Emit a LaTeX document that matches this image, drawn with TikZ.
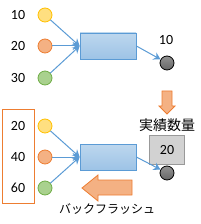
\documentclass[tikz,border=0pt]{standalone}
\usepackage{fontspec}
\setmainfont{Carlito}
\newfontfamily\jpfont{Noto Sans CJK JP}
\usetikzlibrary{arrows.meta}

\definecolor{ylwfill}{HTML}{FFDF80}
\definecolor{ylwline}{HTML}{FFC000}
\definecolor{orgfill}{HTML}{F4B183}
\definecolor{orgline}{HTML}{ED7D31}
\definecolor{grnfill}{HTML}{A9D18E}
\definecolor{grnline}{HTML}{70AD47}
\definecolor{bluline}{HTML}{5B9BD5}
\definecolor{blutop}{HTML}{BDD7EE}
\definecolor{blubot}{HTML}{9DC3E6}

\tikzset{
    ball/.style={circle, minimum size=14pt, inner sep=0pt, line width=0.8pt},
    sink/.style={ball, draw=black, top color=gray!85, bottom color=gray!80!black},
    procbox/.style={rectangle, draw=bluline, line width=0.8pt, top color=blutop, bottom color=blubot,
        minimum width=56pt, minimum height=26pt},
    flow/.style={draw=bluline, line width=1pt, -{Stealth[length=7pt, width=8pt]}},
    num/.style={font=\fontsize{14}{16}\selectfont},
    bigarrow/.style={draw=orgline, line width=0.8pt, fill=orgfill}
}

\begin{document}
\begin{tikzpicture}[x=1pt, y=-1pt]
    \useasboundingbox (0,0) rectangle (200,224);

    % upper part
    \foreach \y/\c/\n [count=\i] in {15/ylw/10, 46/org/20, 78/grn/30} {
        \node[num] (t\i) at (18,\y) {\n};
        \node[ball, draw=\c line, fill=\c fill] (a\i) at (45,\y) {};
    }
    \node[procbox] (p1) at (108,46) {};
    \node[sink] (s1) at (167,63) {};
    \node[num] (r1) at (166,40) {10};
    \foreach \i in {1,2,3} {
        \draw[flow] (a\i) -- (p1.west);
    }
    \draw[flow] (p1.east) -- (s1);

    \draw[bigarrow] (162,91) -- (172,91) -- (172,106) -- (175,106) -- (167,114)
        -- (159,106) -- (162,106) -- cycle;

    % lower part
    \draw[draw=orgline, line width=1pt] (2,110) rectangle (34,203);
    \foreach \y/\c/\n [count=\i] in {126/ylw/20, 157/org/40, 188/grn/60} {
        \node[num] (u\i) at (18,\y) {\n};
        \node[ball, draw=\c line, fill=\c fill] (b\i) at (45,\y) {};
    }
    \node[procbox] (p2) at (108,157) {};
    \node[rectangle, draw=gray!80, fill=gray!35, line width=0.8pt, minimum width=35pt,
        minimum height=29pt, num] (q) at (167,150) {20};
    \node[font=\jpfont\fontsize{14}{16}\selectfont, above=0pt] (ql) at (q.north) {実績数量};
    \node[sink] (s2) at (167,173) {};
    \foreach \i in {1,2,3} {
        \draw[flow] (b\i) -- (p2.west);
    }
    \draw[flow] (p2.east) -- (s2);

    \draw[bigarrow] (132,180) -- (98,180) -- (98,175) -- (82,188) -- (98,201)
        -- (98,195) -- (132,195) -- cycle;
    \node[font=\jpfont\fontsize{12}{14}\selectfont] (bf) at (107,209) {バックフラッシュ};
\end{tikzpicture}
\end{document}
